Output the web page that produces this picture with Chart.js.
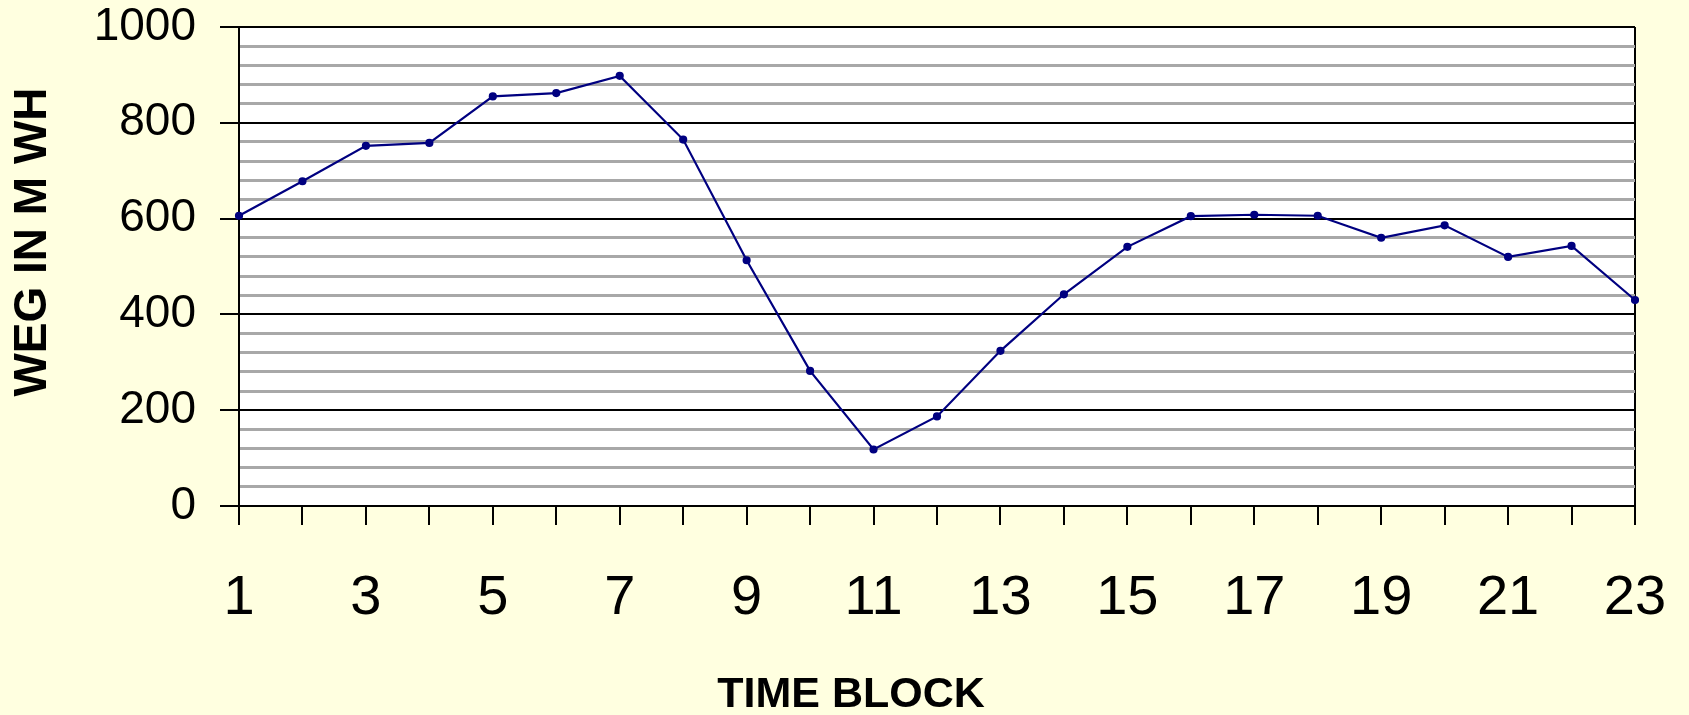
<!DOCTYPE html>
<html>
<head>
<meta charset="utf-8">
<script src="https://cdn.jsdelivr.net/npm/chart.js@4"></script>
<style>
html, body { margin: 0; padding: 0; background: #ffffe0; }
#chartBox { width: 1689px; height: 715px; position: relative; }
</style>
</head>
<body>
<div id="chartBox"><canvas id="chartPlace"></canvas></div>
<script>
// time blocks along the bottom and the energy values
var timeBlocks = [1,2,3,4,5,6,7,8,9,10,11,12,13,14,15,16,17,18,19,20,21,22,23];
var wegValues = [606,678,752,758,855,862,898,765,513,282,118,187,324,442,541,605,608,606,560,586,520,543,430];
var yTitle = "WEG IN M WH";
var xTitle = "TIME BLOCK";

var fontFam = '"Liberation Sans", Arial, sans-serif';

// white plot area + the two axis titles
var plotDeco = {
	id: 'plotDeco',
	beforeDraw: function(chart) {
		var a = chart.chartArea;
		var ctx = chart.ctx;
		ctx.save();
		ctx.fillStyle = '#ffffff';
		ctx.fillRect(a.left, a.top, a.right - a.left, a.bottom - a.top);
		ctx.restore();
	},
	afterDraw: function(chart) {
		var ctx = chart.ctx;
		ctx.save();
		ctx.fillStyle = '#000';
		ctx.textAlign = 'center';
		ctx.textBaseline = 'middle';
		ctx.font = 'bold 43px ' + fontFam;
		ctx.fillText(xTitle, 851, 695);
		ctx.translate(33, 242);
		ctx.rotate(-Math.PI / 2);
		ctx.font = 'bold 46px ' + fontFam;
		ctx.fillText(yTitle, 0, 0);
		ctx.restore();
	}
};

var chartPlace = document.getElementById('chartPlace').getContext('2d');
var chartWeg = new Chart(chartPlace, {
	type: 'line',
	data: {
		labels: timeBlocks,
		datasets: [{
			label: 'WEG',
			data: wegValues,
			borderColor: '#000080',
			backgroundColor: '#000080',
			borderWidth: 2.2,
			pointRadius: 3,
			pointHoverRadius: 3,
			tension: 0
		}]
	},
	options: {
		responsive: true,
		maintainAspectRatio: false,
		animation: false,
		layout: { padding: { top: 27, right: 54, left: 0, bottom: 0 } },
		plugins: {
			legend: { display: false },
			tooltip: { enabled: false }
		},
		scales: {
			x: {
				afterFit: function(scale) {
					scale.height = 209;
					scale.paddingLeft = 0;
					scale.paddingRight = 0;
				},
				ticks: {
					autoSkip: false,
					maxRotation: 0,
					color: '#000',
					padding: 40,
					font: { family: fontFam, size: 56 },
					callback: function(v, i) { return i % 2 == 0 ? this.getLabelForValue(v) : ''; }
				},
				grid: {
					color: function(c) { return c.index == timeBlocks.length - 1 ? '#000' : 'rgba(0,0,0,0)'; },
					tickColor: '#000',
					lineWidth: 2,
					tickLength: 19
				},
				border: { color: '#000', width: 2 }
			},
			y: {
				min: 0,
				max: 1000,
				afterFit: function(scale) {
					scale.width = 239;
					scale.paddingTop = 0;
					scale.paddingBottom = 0;
				},
				ticks: {
					stepSize: 40,
					autoSkip: false,
					color: '#000',
					padding: 24,
					font: { family: fontFam, size: 46 },
					callback: function(v) { return v % 200 == 0 ? v : ''; }
				},
				grid: {
					color: function(c) { return c.tick.value % 200 == 0 ? '#000' : '#a8a8a8'; },
					lineWidth: function(c) { return c.tick.value % 200 == 0 ? 2 : 3; },
					tickColor: function(c) { return c.tick.value % 200 == 0 ? '#000' : 'rgba(0,0,0,0)'; },
					tickLength: 19
				},
				border: { color: '#000', width: 2 }
			}
		}
	},
	plugins: [plotDeco]
});
</script>
</body>
</html>
